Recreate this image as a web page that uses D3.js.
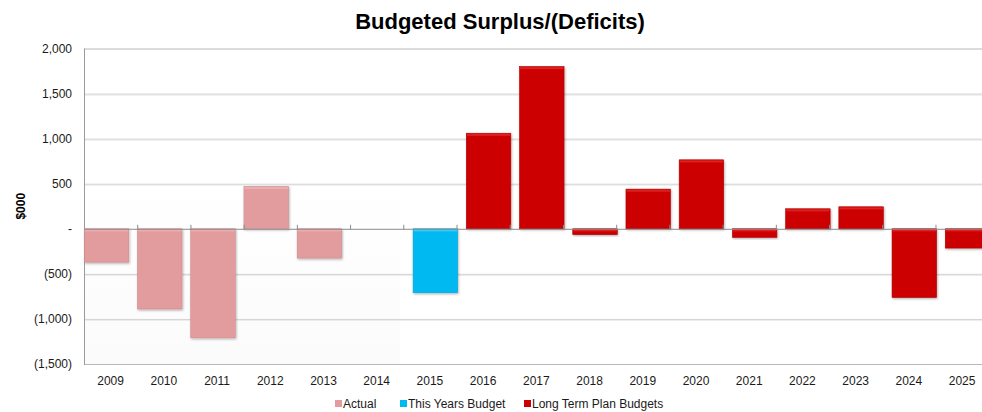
<!DOCTYPE html>
<html>
<head>
<meta charset="utf-8">
<script src="https://cdn.jsdelivr.net/npm/d3@7"></script>
<style>
  html, body { margin: 0; padding: 0; background: #fff; }
  svg { display: block; font-family: "Liberation Sans", Arial, Helvetica, sans-serif; }
</style>
</head>
<body>
<svg id="chart" width="982" height="412"></svg>
<script>
// Years on the category axis
const years = ["2009","2010","2011","2012","2013","2014","2015","2016","2017",
               "2018","2019","2020","2021","2022","2023","2024","2025"];

// Surplus/(deficit) in $000, one value per year for the series that owns it
const actual          = [-370, -890, -1210, 470, -325, 0, null, null, null, null, null, null, null, null, null, null, null];
const thisYearBudget  = [null, null, null, null, null, null, -710, null, null, null, null, null, null, null, null, null, null];
const longTermBudgets = [null, null, null, null, null, null, null, 1060, 1800, -65, 440, 765, -95, 222, 244, -762, -214];

const seriesNames  = ["Actual", "This Years Budget", "Long Term Plan Budgets"];
const seriesValues = [actual, thisYearBudget, longTermBudgets];

const yTicks      = [2000, 1500, 1000, 500, 0, -500, -1000, -1500];
const yTickLabels = ["2,000", "1,500", "1,000", "500", "-", "(500)", "(1,000)", "(1,500)"];

const colors     = ["#e39c9e", "#00b9f1", "#cc0000"];
const highlights = ["#eab0b1", "#3fcaf8", "#de2020"];
const edges      = ["#cf8a8c", "#0aa3d6", "#b00000"];

const svg = d3.select("#chart");

const plot = { left: 84, right: 988.7, top: 48.5, bottom: 364 };

const x = d3.scaleBand().domain(years).range([plot.left, plot.right]).paddingInner(0).paddingOuter(0);
const y = d3.scaleLinear().domain([-1500, 2000]).range([plot.bottom, plot.top]);
// Position of each series' column inside its year slot
const xOffset = d3.scaleOrdinal().domain(seriesNames).range([0.3, 9.8, 9.8]);
const barWidth = 44.5;

const defs = svg.append("defs");
const shadow = defs.append("filter").attr("id", "barShadow")
  .attr("x", "-20%").attr("y", "-20%").attr("width", "150%").attr("height", "150%");
shadow.append("feDropShadow").attr("dx", 0.8).attr("dy", 1.2).attr("stdDeviation", 1)
  .attr("flood-color", "#000").attr("flood-opacity", 0.3);

const panelShade = defs.append("linearGradient").attr("id", "panelShade")
  .attr("x1", 0).attr("y1", 0).attr("x2", 0).attr("y2", 1);
panelShade.append("stop").attr("offset", "0%").attr("stop-color", "#ffffff");
panelShade.append("stop").attr("offset", "100%").attr("stop-color", "#fbfbfb");

// Faint panel behind the actual years
svg.append("rect")
  .attr("x", plot.left).attr("y", y(500))
  .attr("width", x("2015") - plot.left - 3)
  .attr("height", y(-1500) - y(500))
  .attr("fill", "url(#panelShade)");

// Horizontal gridlines with a soft under-line
const grid = svg.append("g");
grid.selectAll("line.shade")
  .data(yTicks.filter(v => v !== 0 && v !== 2000 && v !== -1500))
  .join("line")
  .attr("class", "shade")
  .attr("x1", plot.left).attr("x2", 982)
  .attr("y1", d => y(d) + 1.5).attr("y2", d => y(d) + 1.5)
  .attr("stroke", "#ececec").attr("stroke-width", 1.2);
grid.selectAll("line.main")
  .data(yTicks.filter(v => v !== 0))
  .join("line")
  .attr("class", "main")
  .attr("x1", plot.left).attr("x2", 982)
  .attr("y1", d => y(d) + 0.5).attr("y2", d => y(d) + 0.5)
  .attr("stroke", d => d === -1500 || d === 2000 ? "#b8b8b8" : "#d3d3d3").attr("stroke-width", 1);

// Left value axis line
svg.append("line")
  .attr("x1", plot.left + 0.5).attr("x2", plot.left + 0.5)
  .attr("y1", plot.top).attr("y2", plot.bottom + 1)
  .attr("stroke", "#9a9a9a").attr("stroke-width", 1);

// Y tick labels
svg.append("g").selectAll("text")
  .data(yTicks)
  .join("text")
  .attr("x", 72)
  .attr("y", d => y(d) + 4)
  .attr("text-anchor", "end")
  .attr("font-size", "12px")
  .attr("fill", "#1a1a1a")
  .text((d, i) => yTickLabels[i]);

// Bars
const bars = [];
seriesValues.forEach((vals, s) => {
  vals.forEach((v, i) => {
    if (v !== null && v !== 0) bars.push({ series: s, year: years[i], value: v });
  });
});

const barG = svg.append("g");
const barSel = barG.selectAll("g.bar").data(bars).join("g").attr("class", "bar");
barSel.append("rect")
  .attr("x", d => x(d.year) + xOffset(seriesNames[d.series]))
  .attr("y", d => y(Math.max(0, d.value)))
  .attr("width", barWidth)
  .attr("height", d => Math.abs(y(d.value) - y(0)))
  .attr("fill", d => colors[d.series])
  .attr("stroke", d => edges[d.series])
  .attr("stroke-width", 0.6)
  .attr("filter", "url(#barShadow)");
// Bevel highlight along the top edge
barSel.append("rect")
  .attr("x", d => x(d.year) + xOffset(seriesNames[d.series]) + 0.6)
  .attr("y", d => y(Math.max(0, d.value)) + 0.6)
  .attr("width", barWidth - 1.2)
  .attr("height", d => Math.min(2, Math.abs(y(d.value) - y(0)) / 3))
  .attr("fill", d => highlights[d.series]);

// Category axis along zero
svg.append("line")
  .attr("x1", plot.left).attr("x2", 982)
  .attr("y1", y(0) + 0.5).attr("y2", y(0) + 0.5)
  .attr("stroke", "#8c8c8c").attr("stroke-width", 1);
svg.append("g").selectAll("line")
  .data(years.slice(1))
  .join("line")
  .attr("x1", d => x(d) + 0.5).attr("x2", d => x(d) + 0.5)
  .attr("y1", y(0) - 4).attr("y2", y(0) + 1)
  .attr("stroke", "#8c8c8c").attr("stroke-width", 1);

// Year labels under the plot
svg.append("g").selectAll("text")
  .data(years)
  .join("text")
  .attr("x", d => x(d) + x.bandwidth() / 2)
  .attr("y", 385)
  .attr("text-anchor", "middle")
  .attr("font-size", "12px")
  .attr("fill", "#1a1a1a")
  .text(d => d);

// Title
svg.append("text")
  .attr("x", 500).attr("y", 29)
  .attr("text-anchor", "middle")
  .attr("font-size", "22px")
  .attr("font-weight", "bold")
  .attr("fill", "#000")
  .text("Budgeted Surplus/(Deficits)");

// Value axis title
svg.append("text")
  .attr("transform", `translate(25, ${(plot.top + plot.bottom) / 2}) rotate(-90)`)
  .attr("text-anchor", "middle")
  .attr("font-size", "12px")
  .attr("font-weight", "bold")
  .attr("fill", "#000")
  .text("$000");

// Legend
const legendX = [335, 400, 524];
const legend = svg.append("g").selectAll("g")
  .data(seriesNames)
  .join("g")
  .attr("transform", (d, i) => `translate(${legendX[i]}, 408)`);
legend.append("rect")
  .attr("x", 0).attr("y", -8)
  .attr("width", 7).attr("height", 7)
  .attr("fill", (d, i) => colors[i]);
legend.append("text")
  .attr("x", 8).attr("y", 0)
  .attr("font-size", "12px")
  .attr("fill", "#1a1a1a")
  .text(d => d);
</script>
</body>
</html>
